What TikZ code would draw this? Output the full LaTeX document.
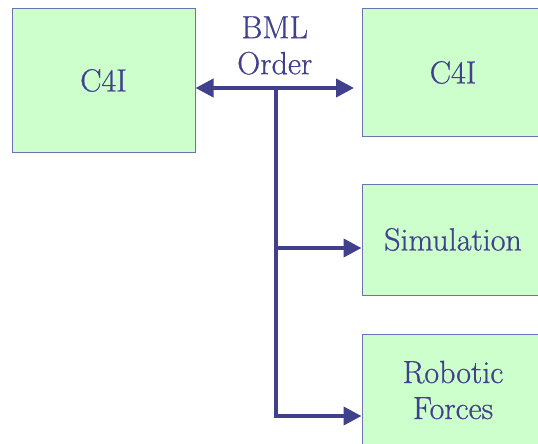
\documentclass[tikz,border=0pt]{standalone}
\usepackage{fontspec}
\newfontfamily\boxfam{Latin Modern Roman}[FakeBold=0.7]
\usetikzlibrary{arrows.meta}
\definecolor{boxfill}{HTML}{CCFFCC}
\definecolor{boxline}{HTML}{6C72B2}
\definecolor{ink}{HTML}{40408C}
\newcommand{\boxfont}{\boxfam\fontsize{32}{36}\selectfont}

\begin{document}
\begin{tikzpicture}[x=1pt, y=-1pt,
    gnode/.style={draw=boxline, fill=boxfill, line width=1pt, inner sep=0pt, minimum width=182pt, text=ink, font=\boxfont, align=center},
    link/.style={draw=ink, line width=4pt, -{Triangle[length=18pt,width=18pt]}}]
    \useasboundingbox (0,0) rectangle (538,444);

    \node[gnode, minimum width=183pt, minimum height=143pt] (c4ia) at (103.5,80.5) {C4I};
    \node[gnode, minimum height=127pt] (c4ib) at (453,72.5) {C4I};
    \node[gnode, minimum height=111pt] (sim) at (453,239.5) {Simulation};
    \node[gnode, minimum height=112pt] (robot) at (453,390) {Robotic\\Forces};

    \coordinate (hub) at (275.5,88);
    \coordinate (simtap) at (275.5,248);
    \coordinate (robtap) at (275.5,416);
    \coordinate (c4iend) at (354,88);

    \draw[link, {Triangle[length=18pt,width=18pt]}-{Triangle[length=18pt,width=18pt]}] (c4ia.east |- hub) -- node[above=8pt, text=ink, font=\boxfont, align=center] {BML\\Order} (c4iend);
    \draw[link] (hub) -- (robtap) -- (robot.west |- robtap);
    \draw[link] (simtap) -- (sim.west |- simtap);
\end{tikzpicture}
\end{document}
